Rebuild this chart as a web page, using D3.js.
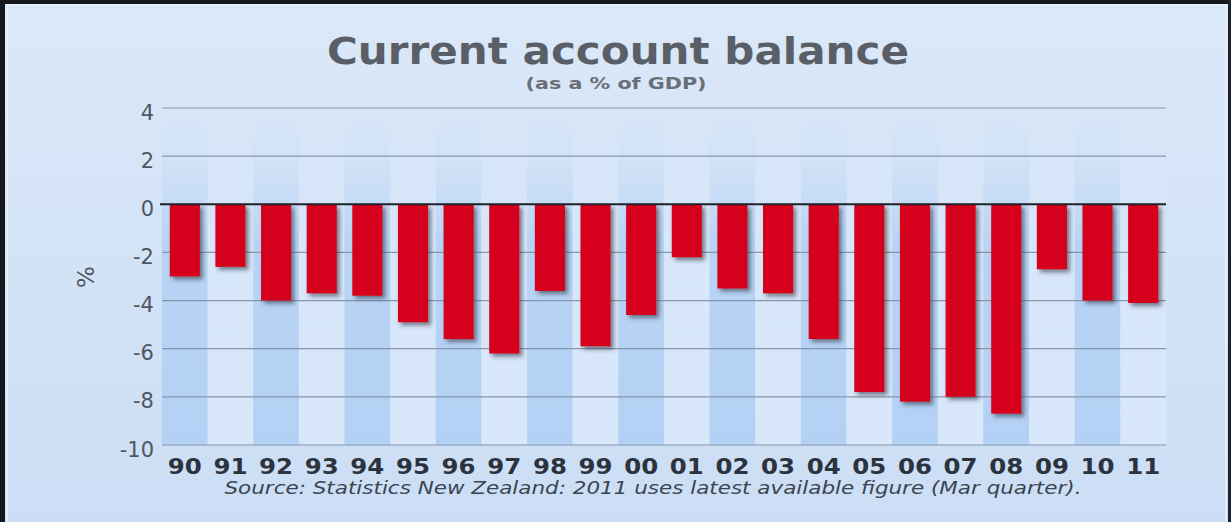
<!DOCTYPE html>
<html>
<head>
<meta charset="utf-8">
<script src="https://cdn.jsdelivr.net/npm/d3@7"></script>
<style>
  html, body { margin: 0; padding: 0; background: #fff; }
  svg { display: block; font-family: "DejaVu Sans", Verdana, sans-serif; }
</style>
</head>
<body>
<svg id="chart"></svg>
<script>
const width = 1231;
const height = 522;

// data
var years = ["90","91","92","93","94","95","96","97","98","99","00","01","02","03","04","05","06","07","08","09","10","11"];
var balance = [-3.0,-2.6,-4.0,-3.7,-3.8,-4.9,-5.6,-6.2,-3.6,-5.9,-4.6,-2.2,-3.5,-3.7,-5.6,-7.8,-8.2,-8.0,-8.7,-2.7,-4.0,-4.1];
var yTicks = [4, 2, 0, -2, -4, -6, -8, -10];

var title = "Current account balance";
var subtitle = "(as a % of GDP)";
var source = "Source: Statistics New Zealand: 2011 uses latest available figure (Mar quarter).";

var data = years.map(function(d, i) { return {year: d, value: balance[i]}; });

var svg = d3.select('#chart')
    .attr('width', width)
    .attr('height', height);

var defs = svg.append('defs');

var bg = defs.append('linearGradient')
    .attr('id', 'bg')
    .attr('x1', 0).attr('y1', 0).attr('x2', 0).attr('y2', 1);
bg.append('stop').attr('offset', '0%').attr('stop-color', '#dbe8f8');
bg.append('stop').attr('offset', '100%').attr('stop-color', '#cbdef5');

// stripes fade out above the zero line
function stripeGrad(id, colour) {
  var g = defs.append('linearGradient')
      .attr('id', id)
      .attr('x1', 0).attr('y1', 1).attr('x2', 0).attr('y2', 0);
  g.append('stop').attr('offset', '0%').attr('stop-color', colour).attr('stop-opacity', 1);
  g.append('stop').attr('offset', '60%').attr('stop-color', colour).attr('stop-opacity', 0.85);
  g.append('stop').attr('offset', '72%').attr('stop-color', colour).attr('stop-opacity', 0.45);
  g.append('stop').attr('offset', '86%').attr('stop-color', colour).attr('stop-opacity', 0.12);
  g.append('stop').attr('offset', '100%').attr('stop-color', colour).attr('stop-opacity', 0);
}
stripeGrad('stripeDark', '#b3d1f4');
stripeGrad('stripeLight', '#d8e7fa');

var shadow = defs.append('filter')
    .attr('id', 'shadow')
    .attr('x', '-20%').attr('y', '-10%').attr('width', '150%').attr('height', '130%');
shadow.append('feDropShadow')
    .attr('dx', 3).attr('dy', 3)
    .attr('stdDeviation', 2)
    .attr('flood-color', '#2a3040')
    .attr('flood-opacity', 0.6);

// background + frame
svg.append('rect')
    .attr('width', width).attr('height', height)
    .attr('fill', 'url(#bg)');
svg.append('rect')
    .attr('x', 7).attr('y', 5).attr('width', width - 12).attr('height', height)
    .attr('fill', 'none')
    .attr('stroke', '#eaf2fc')
    .attr('stroke-width', 1.5);
svg.append('rect').attr('x', 0).attr('y', 0).attr('width', width).attr('height', 4).attr('fill', '#15181c');
svg.append('rect').attr('x', 0).attr('y', 0).attr('width', 5).attr('height', height).attr('fill', '#15181c');
svg.append('rect').attr('x', width - 3).attr('y', 0).attr('width', 3).attr('height', height).attr('fill', '#1c2330');

var x = d3.scaleBand()
    .domain(years)
    .range([162, 1166])
    .paddingInner(0.34)
    .paddingOuter(0.17);

var y = d3.scaleLinear()
    .domain([-10, 4])
    .range([445, 108]);

var step = x.step();

// alternating column stripes
svg.append('g')
  .selectAll('rect')
  .data(data)
  .enter().append('rect')
    .attr('x', d => x(d.year) - step * x.paddingInner() / 2)
    .attr('y', y(4))
    .attr('width', step)
    .attr('height', y(-10) - y(4))
    .attr('fill', (d, i) => i % 2 == 0 ? 'url(#stripeDark)' : 'url(#stripeLight)');

// grid lines
svg.append('g')
  .selectAll('line')
  .data(yTicks.filter(d => d != 0))
  .enter().append('line')
    .attr('x1', 162).attr('x2', 1166)
    .attr('y1', d => y(d)).attr('y2', d => y(d))
    .attr('stroke', '#8796ad')
    .attr('stroke-width', 1.2);

// y labels
svg.append('g')
  .selectAll('text')
  .data(yTicks)
  .enter().append('text')
    .attr('x', 154)
    .attr('y', d => y(d))
    .attr('dy', '0.55em')
    .attr('text-anchor', 'end')
    .attr('font-size', 21)
    .attr('fill', '#4f5660')
    .text(d => d);

// bars
svg.append('g')
  .selectAll('rect')
  .data(data)
  .enter().append('rect')
    .attr('x', d => x(d.year))
    .attr('y', d => y(Math.max(0, d.value)))
    .attr('width', x.bandwidth())
    .attr('height', d => Math.abs(y(d.value) - y(0)))
    .attr('fill', '#d4021f')
    .attr('filter', 'url(#shadow)');

// zero line
svg.append('line')
    .attr('x1', 160).attr('x2', 1166)
    .attr('y1', y(0)).attr('y2', y(0))
    .attr('stroke', '#1e2228')
    .attr('stroke-width', 2);

// x labels
svg.append('g')
  .selectAll('text')
  .data(years)
  .enter().append('text')
    .attr('x', d => x(d) + x.bandwidth() / 2)
    .attr('y', 474)
    .attr('text-anchor', 'middle')
    .attr('font-size', 21)
    .attr('font-weight', 'bold')
    .attr('fill', '#2c333d')
    .attr('textLength', 34)
    .attr('lengthAdjust', 'spacingAndGlyphs')
    .text(d => d);

// axis title
svg.append('text')
    .attr('transform', 'translate(94,277) rotate(-90)')
    .attr('text-anchor', 'middle')
    .attr('font-size', 23)
    .attr('fill', '#4f5660')
    .text('%');

// titles
svg.append('text')
    .attr('x', 618)
    .attr('y', 64)
    .attr('text-anchor', 'middle')
    .attr('font-size', 38)
    .attr('font-weight', 'bold')
    .attr('fill', '#5a5f67')
    .attr('textLength', 582)
    .attr('lengthAdjust', 'spacingAndGlyphs')
    .text(title);

svg.append('text')
    .attr('x', 616)
    .attr('y', 89)
    .attr('text-anchor', 'middle')
    .attr('font-size', 15)
    .attr('font-weight', 'bold')
    .attr('fill', '#6a6f77')
    .attr('textLength', 181)
    .attr('lengthAdjust', 'spacingAndGlyphs')
    .text(subtitle);

svg.append('text')
    .attr('x', 653)
    .attr('y', 494)
    .attr('text-anchor', 'middle')
    .attr('font-size', 17)
    .attr('font-style', 'italic')
    .attr('fill', '#3b4451')
    .attr('textLength', 857)
    .attr('lengthAdjust', 'spacingAndGlyphs')
    .text(source);
</script>
</body>
</html>
